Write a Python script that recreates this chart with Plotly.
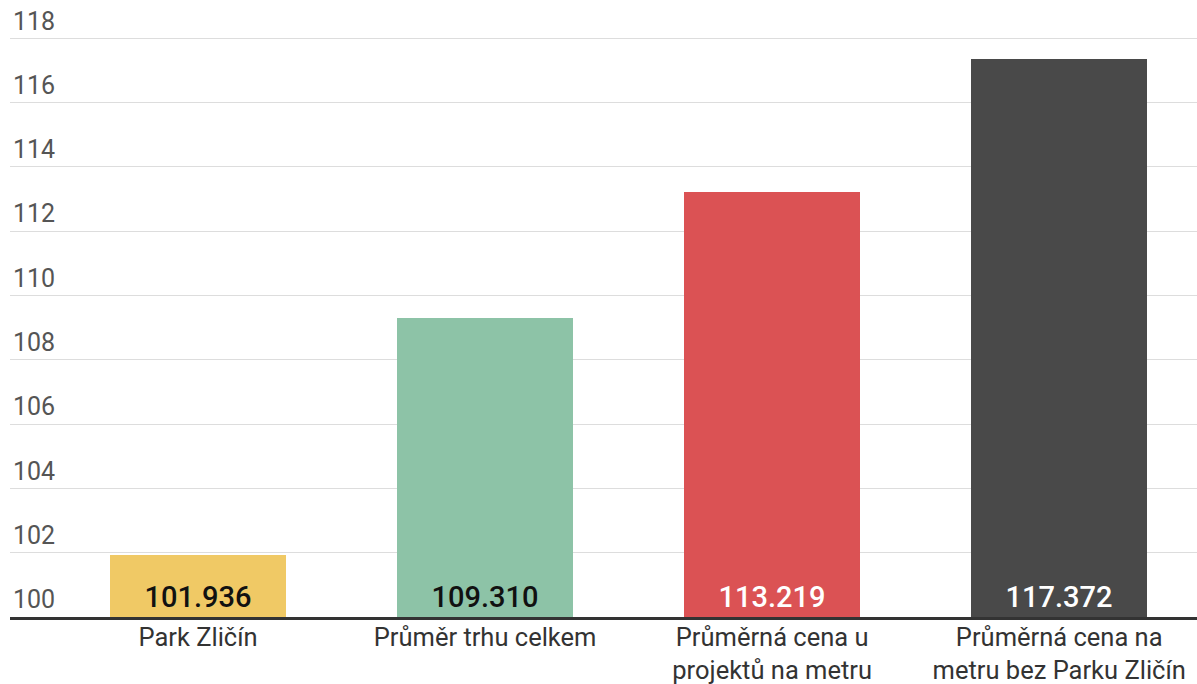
import plotly.graph_objects as go

categories = ["Park Zličín", "Průměr trhu celkem", "Průměrná cena u<br>projektů na metru",
              "Průměrná cena na<br>metru bez Parku Zličín"]
values = [101.936, 109.310, 113.219, 117.372]
value_labels = ["101.936", "109.310", "113.219", "117.372"]
colors = ["#F0C965", "#8DC3A7", "#DB5254", "#494949"]
text_colors = ["#111111", "#111111", "#FFFFFF", "#FFFFFF"]
y_ticks = [100, 102, 104, 106, 108, 110, 112, 114, 116, 118]
axis_base = 100

fig = go.Figure(go.Bar(
    x=list(range(len(categories))),
    y=[v - axis_base for v in values],
    base=axis_base,
    marker=dict(color=colors, line=dict(width=0)),
    width=0.613,
    text=value_labels,
    textposition="inside",
    insidetextanchor="start",
    textangle=0,
    textfont=dict(family="Roboto", size=29, color=text_colors, weight=500),
    hoverinfo="skip",
))

# y range extended slightly above 118 so the "118" label fits
y_top = 119.1
plot_h = 617 - 38  # pixels from 100 to 118
px_per_unit = plot_h / 18
top_margin = int(round(38 - (y_top - 118) * px_per_unit))

fig.update_layout(
    width=1197, height=684,
    margin=dict(l=10, r=0, t=top_margin, b=67, autoexpand=False),
    paper_bgcolor="white", plot_bgcolor="white",
    showlegend=False,
    bargap=0,
)
fig.update_xaxes(
    range=[-0.655, 3.48],
    tickmode="array", tickvals=list(range(len(categories))), ticktext=categories,
    tickfont=dict(family="Roboto", size=25.5, color="#333333"),
    ticklabelstandoff=-5,
    showgrid=False, zeroline=False,
    showline=True, linecolor="#333333", linewidth=3,
    ticks="", ticklen=0, automargin=False,
)
fig.update_yaxes(
    range=[100, y_top],
    tickmode="array", tickvals=y_ticks, ticktext=[str(t) for t in y_ticks],
    ticklabelposition="inside top",
    tickfont=dict(family="Roboto", size=25, color="#555555"),
    showgrid=True, gridcolor="#DDDDDD", gridwidth=1,
    zeroline=False, showline=False, ticks="", automargin=False,
)

fig.write_html("out.html", config={"displayModeBar": False},
               post_script="document.body.style.margin='0';")
